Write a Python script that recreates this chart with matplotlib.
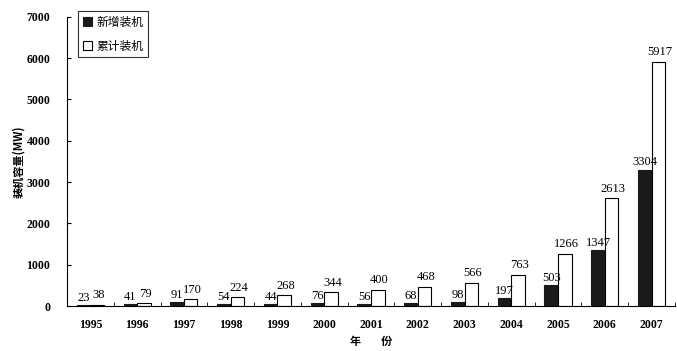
import matplotlib.pyplot as plt
import numpy as np

years = ['1995', '1996', '1997', '1998', '1999', '2000', '2001',
         '2002', '2003', '2004', '2005', '2006', '2007']
xinzeng = [23, 41, 91, 54, 44, 76, 56, 68, 98, 197, 503, 1347, 3304]
leiji = [38, 79, 170, 224, 268, 344, 400, 468, 566, 763, 1266, 2613, 5917]

plt.rcParams['font.family'] = ['Liberation Serif', 'Noto Sans CJK SC']

fig = plt.figure(figsize=(6.77, 3.51), dpi=100)
ax = fig.add_axes([0.099, 0.128, 0.898, 0.824])

x = np.arange(len(years))
w = 0.29
b1 = ax.bar(x - w / 2, xinzeng, w, color='#1a1a1a', edgecolor='#1a1a1a',
            linewidth=0.8, label='新增装机')
b2 = ax.bar(x + w / 2, leiji, w, color='white', edgecolor='black',
            linewidth=0.8, label='累计装机')

for i in range(len(years)):
    ax.text(x[i] - w / 2, xinzeng[i] + 30, str(xinzeng[i]), ha='center',
            va='bottom', fontsize=9)
    ax.text(x[i] + w / 2 + 0.03, leiji[i] + 80, str(leiji[i]), ha='center',
            va='bottom', fontsize=9)

ax.set_xlim(-0.5, 12.5)
ax.set_ylim(0, 7000)
ax.set_yticks(range(0, 7001, 1000))
ax.set_xticks(x)
ax.set_xticklabels(years, fontsize=8.5, fontweight='bold')
ax.tick_params(axis='y', direction='in', length=3, labelsize=8.5, pad=12)
ax.tick_params(axis='x', length=0, pad=9)
for lab in ax.get_yticklabels():
    lab.set_fontweight('bold')
ax.set_xticks(np.arange(-0.5, 13, 1), minor=True)
ax.tick_params(axis='x', which='minor', direction='in', length=3)

ax.spines['top'].set_visible(False)
ax.spines['right'].set_visible(False)

ax.set_ylabel('装机容量(MW)', fontsize=8, fontweight='bold', labelpad=1,
              family=['Noto Sans CJK SC'])
ax.set_xlabel('年        份', fontsize=8, fontweight='bold', labelpad=3,
              family=['Noto Sans CJK SC'])

leg = ax.legend(loc='upper left', bbox_to_anchor=(0.008, 1.04),
                prop={'family': 'Noto Sans CJK SC', 'size': 8.5},
                frameon=True, fancybox=False, edgecolor='black',
                handlelength=0.8, handleheight=0.8, handletextpad=0.4,
                borderpad=0.4, labelspacing=0.9)
leg.get_frame().set_linewidth(0.8)

fig.savefig('out.png', dpi=100)
